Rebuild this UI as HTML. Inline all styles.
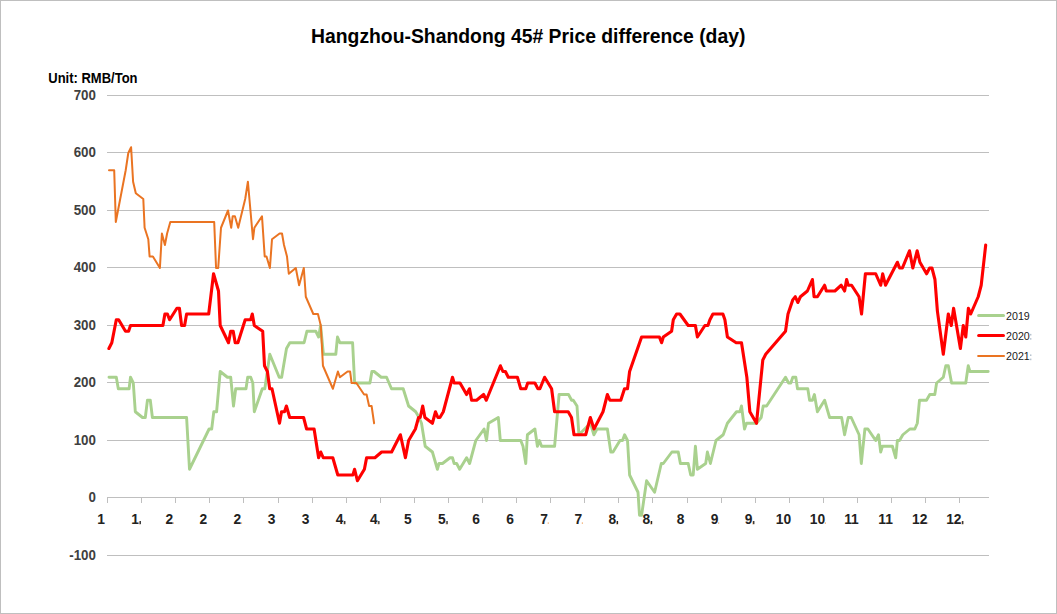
<!DOCTYPE html>
<html><head><meta charset="utf-8"><title>Hangzhou-Shandong 45# Price difference (day)</title>
<style>
html,body{margin:0;padding:0;background:#fff;}
body{width:1057px;height:614px;overflow:hidden;font-family:"Liberation Sans",sans-serif;}
svg{display:block;}
text{font-family:"Liberation Sans",sans-serif;}
.t{font-weight:bold;font-size:19.5px;fill:#000;}
.u{font-weight:bold;font-size:14px;fill:#000;}
.yl{font-weight:bold;font-size:13.9px;fill:#404040;text-anchor:end;}
.xl{font-weight:bold;font-size:15.5px;fill:#222;text-anchor:middle;}
.lg{font-size:10.67px;fill:#1a1a1a;}
</style></head><body>
<svg width="1057" height="614" viewBox="0 0 1057 614">
<rect x="0" y="0" width="1057" height="614" fill="#fff"/>
<rect x="0.5" y="0.5" width="1056" height="613" fill="none" stroke="#bfbfbf" stroke-width="1" shape-rendering="crispEdges"/>

<g shape-rendering="crispEdges" fill="#bfbfbf">
<rect x="107" y="95" width="882" height="1"/>
<rect x="107" y="152" width="882" height="1"/>
<rect x="107" y="210" width="882" height="1"/>
<rect x="107" y="267" width="882" height="1"/>
<rect x="107" y="325" width="882" height="1"/>
<rect x="107" y="382" width="882" height="1"/>
<rect x="107" y="440" width="882" height="1"/>
<rect x="107" y="555" width="882" height="1"/>
<rect x="107" y="497" width="882" height="1"/>
<rect x="107" y="497" width="1" height="6"/>
<rect x="141" y="497" width="1" height="6"/>
<rect x="175" y="497" width="1" height="6"/>
<rect x="209" y="497" width="1" height="6"/>
<rect x="243" y="497" width="1" height="6"/>
<rect x="278" y="497" width="1" height="6"/>
<rect x="312" y="497" width="1" height="6"/>
<rect x="346" y="497" width="1" height="6"/>
<rect x="380" y="497" width="1" height="6"/>
<rect x="414" y="497" width="1" height="6"/>
<rect x="448" y="497" width="1" height="6"/>
<rect x="482" y="497" width="1" height="6"/>
<rect x="516" y="497" width="1" height="6"/>
<rect x="550" y="497" width="1" height="6"/>
<rect x="584" y="497" width="1" height="6"/>
<rect x="618" y="497" width="1" height="6"/>
<rect x="652" y="497" width="1" height="6"/>
<rect x="687" y="497" width="1" height="6"/>
<rect x="721" y="497" width="1" height="6"/>
<rect x="755" y="497" width="1" height="6"/>
<rect x="789" y="497" width="1" height="6"/>
<rect x="823" y="497" width="1" height="6"/>
<rect x="857" y="497" width="1" height="6"/>
<rect x="891" y="497" width="1" height="6"/>
<rect x="925" y="497" width="1" height="6"/>
<rect x="959" y="497" width="1" height="6"/>
</g>
<text class="t" x="311.0" y="43.0" textLength="434.4" lengthAdjust="spacingAndGlyphs">Hangzhou-Shandong 45# Price difference (day)</text>
<text class="u" x="48.3" y="82.8" textLength="89.2" lengthAdjust="spacingAndGlyphs">Unit: RMB/Ton</text>
<text class="yl" transform="translate(95.9,100.0) scale(0.96,1)">700</text>
<text class="yl" transform="translate(95.9,157.0) scale(0.96,1)">600</text>
<text class="yl" transform="translate(95.9,215.0) scale(0.96,1)">500</text>
<text class="yl" transform="translate(95.9,272.0) scale(0.96,1)">400</text>
<text class="yl" transform="translate(95.9,330.0) scale(0.96,1)">300</text>
<text class="yl" transform="translate(95.9,387.0) scale(0.96,1)">200</text>
<text class="yl" transform="translate(95.9,445.0) scale(0.96,1)">100</text>
<text class="yl" transform="translate(95.9,502.0) scale(0.96,1)">0</text>
<text class="yl" transform="translate(95.9,560.0) scale(0.96,1)">-100</text>
<text class="xl" transform="translate(101.1,523.6) scale(0.89,1)">1</text>
<text class="xl" transform="translate(135.2,523.6) scale(0.89,1)">1</text>
<rect x="138.8" y="521.2" width="0.9" height="3.2" fill="#f3b27a"/><rect x="139.6" y="521.0" width="1.3" height="3.2" fill="#2a2a2a"/>
<text class="xl" transform="translate(169.3,523.6) scale(0.89,1)">2</text>
<rect x="172.8" y="522.4" width="1.1" height="1.4" fill="#f0a868"/>
<text class="xl" transform="translate(203.3,523.6) scale(0.89,1)">2</text>
<text class="xl" transform="translate(237.4,523.6) scale(0.89,1)">2</text>
<rect x="241.0" y="522.4" width="1.1" height="1.4" fill="#f0a868"/>
<text class="xl" transform="translate(271.5,523.6) scale(0.89,1)">3</text>
<text class="xl" transform="translate(305.6,523.6) scale(0.89,1)">3</text>
<text class="xl" transform="translate(339.7,523.6) scale(0.89,1)">4</text>
<rect x="343.3" y="521.2" width="0.9" height="3.2" fill="#f3b27a"/><rect x="344.1" y="521.0" width="1.3" height="3.2" fill="#2a2a2a"/>
<text class="xl" transform="translate(373.8,523.6) scale(0.89,1)">4</text>
<rect x="377.4" y="521.2" width="0.9" height="3.2" fill="#f3b27a"/><rect x="378.2" y="521.0" width="1.3" height="3.2" fill="#2a2a2a"/>
<text class="xl" transform="translate(407.8,523.6) scale(0.89,1)">5</text>
<text class="xl" transform="translate(441.9,523.6) scale(0.89,1)">5</text>
<rect x="445.6" y="521.2" width="0.9" height="3.2" fill="#f3b27a"/><rect x="446.4" y="521.0" width="1.3" height="3.2" fill="#2a2a2a"/>
<text class="xl" transform="translate(476.0,523.6) scale(0.89,1)">6</text>
<text class="xl" transform="translate(510.1,523.6) scale(0.89,1)">6</text>
<text class="xl" transform="translate(544.2,523.6) scale(0.89,1)">7</text>
<rect x="547.7" y="522.4" width="1.1" height="1.4" fill="#f0a868"/>
<text class="xl" transform="translate(578.3,523.6) scale(0.89,1)">7</text>
<rect x="581.8" y="522.4" width="1.1" height="1.4" fill="#f0a868"/>
<text class="xl" transform="translate(612.3,523.6) scale(0.89,1)">8</text>
<rect x="616.0" y="521.2" width="0.9" height="3.2" fill="#f3b27a"/><rect x="616.8" y="521.0" width="1.3" height="3.2" fill="#2a2a2a"/>
<text class="xl" transform="translate(646.4,523.6) scale(0.89,1)">8</text>
<rect x="650.1" y="521.2" width="0.9" height="3.2" fill="#f3b27a"/><rect x="650.9" y="521.0" width="1.3" height="3.2" fill="#2a2a2a"/>
<text class="xl" transform="translate(680.5,523.6) scale(0.89,1)">8</text>
<text class="xl" transform="translate(714.6,523.6) scale(0.89,1)">9</text>
<rect x="718.1" y="522.4" width="1.1" height="1.4" fill="#f0a868"/>
<text class="xl" transform="translate(748.7,523.6) scale(0.89,1)">9</text>
<rect x="752.3" y="521.2" width="0.9" height="3.2" fill="#f3b27a"/><rect x="753.1" y="521.0" width="1.3" height="3.2" fill="#2a2a2a"/>
<text class="xl" transform="translate(783.4,523.6) scale(0.89,1)">10</text>
<text class="xl" transform="translate(817.4,523.6) scale(0.89,1)">10</text>
<rect x="824.8" y="522.4" width="1.1" height="1.4" fill="#f0a868"/>
<text class="xl" transform="translate(851.5,523.6) scale(0.89,1)">11</text>
<text class="xl" transform="translate(885.6,523.6) scale(0.89,1)">11</text>
<text class="xl" transform="translate(919.7,523.6) scale(0.89,1)">12</text>
<rect x="927.1" y="522.4" width="1.1" height="1.4" fill="#f0a868"/>
<text class="xl" transform="translate(953.8,523.6) scale(0.89,1)">12</text>
<rect x="961.3" y="521.2" width="0.9" height="3.2" fill="#f3b27a"/><rect x="962.1" y="521.0" width="1.3" height="3.2" fill="#2a2a2a"/>
<polyline fill="none" stroke="#a9d18e" stroke-width="2.9" stroke-linejoin="round" stroke-linecap="round" points="109.00,377.25 116.30,377.25 118.30,388.75 129.10,388.75 130.50,377.25 133.30,383.00 135.30,411.75 142.50,417.50 145.30,417.50 147.45,400.25 150.30,400.25 152.40,417.50 186.60,417.50 189.50,469.25 209.10,429.00 211.70,429.00 213.80,411.75 216.60,411.75 220.20,371.50 227.40,377.25 230.70,377.25 233.50,406.00 235.70,388.75 246.00,388.75 247.70,377.25 250.70,377.25 252.80,383.00 254.30,411.75 262.30,388.75 264.80,388.75 269.80,354.25 279.20,377.25 281.65,377.25 286.50,348.50 289.80,342.75 304.10,342.75 306.90,331.25 315.80,331.25 318.60,337.00 320.60,325.50 323.40,354.25 335.80,354.25 337.50,337.00 339.90,342.75 352.60,342.75 354.60,383.00 369.90,383.00 371.90,371.50 374.10,371.50 381.20,377.25 386.55,377.25 391.50,388.75 403.20,388.75 408.60,406.00 415.70,411.75 419.05,417.50 421.50,423.25 425.20,446.25 432.40,452.00 437.40,469.25 439.00,463.50 442.50,463.50 450.00,457.75 452.50,457.75 454.15,463.50 456.65,463.50 459.65,469.25 466.60,457.75 469.60,463.50 475.80,440.50 484.10,429.00 486.50,440.50 488.50,423.25 498.30,417.50 500.30,440.50 520.75,440.50 523.00,446.25 525.75,463.50 527.40,434.75 534.90,429.00 537.40,446.25 539.40,440.50 541.60,446.25 554.60,446.25 559.10,394.50 568.50,394.50 571.60,400.25 573.30,400.25 577.00,406.00 578.90,434.75 590.40,423.25 593.90,434.75 597.00,429.00 607.40,429.00 610.80,452.00 613.00,452.00 620.00,440.50 622.50,440.50 624.60,434.75 627.50,440.50 629.60,475.00 638.00,492.25 639.50,515.25 641.60,515.25 646.60,480.75 654.60,492.25 661.30,463.50 663.30,463.50 671.90,452.00 678.25,452.00 680.40,463.50 688.20,463.50 690.70,475.00 693.20,475.00 695.40,446.25 697.40,469.25 705.70,463.50 707.40,452.00 710.40,463.50 716.00,440.50 723.20,434.75 727.40,423.25 736.50,411.75 739.90,411.75 741.50,406.00 744.50,429.00 746.50,423.25 756.50,423.25 761.20,417.50 763.20,406.00 766.60,406.00 785.50,377.25 788.60,383.00 790.80,383.00 792.80,377.25 795.80,377.25 797.50,388.75 807.80,388.75 809.60,400.25 812.40,400.25 814.40,394.50 817.40,411.75 824.60,400.25 829.60,417.50 841.60,417.50 844.60,434.75 848.20,417.50 851.20,417.50 859.10,434.75 861.30,463.50 864.90,429.00 867.90,429.00 875.70,440.50 878.50,434.75 880.70,452.00 882.40,446.25 892.40,446.25 895.70,457.75 897.40,440.50 899.50,440.50 902.85,434.75 909.85,429.00 914.80,429.00 917.30,423.25 919.50,400.25 926.50,400.25 929.80,394.50 934.80,394.50 936.60,383.00 943.30,377.25 945.80,365.75 948.30,365.75 951.60,383.00 965.75,383.00 968.25,365.75 969.90,371.50 988.20,371.50"/>
<polyline fill="none" stroke="#ff0000" stroke-width="3.1" stroke-linejoin="round" stroke-linecap="round" points="108.90,348.50 111.80,342.75 116.30,319.75 118.65,319.75 125.50,331.25 128.60,331.25 130.50,325.50 162.90,325.50 164.90,314.00 167.40,314.00 169.60,319.75 176.90,308.25 179.40,308.25 181.60,325.50 184.60,325.50 186.60,314.00 208.70,314.00 213.55,273.75 218.50,291.00 220.20,325.50 228.50,342.75 230.70,331.25 233.20,331.25 235.20,342.75 237.90,342.75 245.20,319.75 250.70,319.75 252.30,314.00 254.30,325.50 262.70,331.25 264.50,365.75 267.40,371.50 269.70,388.75 272.00,388.75 279.50,423.25 281.50,411.75 284.50,411.75 286.40,406.00 289.70,417.50 303.60,417.50 306.60,429.00 314.10,429.00 318.60,457.75 320.75,452.00 323.25,457.75 332.80,457.75 337.80,475.00 352.90,475.00 354.60,469.25 357.40,480.75 364.40,469.25 366.60,457.75 374.90,457.75 381.60,452.00 391.60,452.00 400.40,434.75 405.40,457.75 408.60,440.50 415.40,429.00 418.55,417.50 420.20,417.50 422.70,406.00 424.90,417.50 432.40,423.25 435.50,411.75 437.90,417.50 439.90,417.50 443.30,411.75 452.50,377.25 454.15,383.00 460.00,383.00 466.60,394.50 469.50,388.75 471.60,400.25 476.60,400.25 483.60,394.50 486.30,400.25 500.40,365.75 502.90,371.50 505.40,371.50 508.30,377.25 517.40,377.25 520.75,388.75 525.75,388.75 527.70,383.00 534.90,383.00 537.90,388.75 539.90,388.75 544.60,377.25 551.60,388.75 554.60,411.75 568.20,411.75 571.50,417.50 574.00,434.75 585.70,434.75 590.35,417.50 594.00,429.00 603.00,411.75 607.40,394.50 609.90,400.25 620.80,400.25 624.50,388.75 627.50,388.75 629.60,371.50 641.60,337.00 659.40,337.00 661.60,342.75 663.30,337.00 671.60,331.25 673.30,319.75 676.60,314.00 679.90,314.00 688.20,325.50 695.40,325.50 697.40,337.00 704.90,325.50 707.90,325.50 709.90,319.75 712.90,314.00 722.90,314.00 724.90,319.75 727.40,337.00 736.20,342.75 741.50,342.75 746.85,377.25 749.85,411.75 756.50,423.25 762.80,360.00 765.70,354.25 785.50,331.25 788.00,314.00 792.90,299.62 795.30,296.75 797.80,302.50 800.40,296.75 807.40,291.00 812.40,279.50 814.10,296.75 817.40,296.75 824.60,285.25 826.30,291.00 834.90,291.00 841.20,285.25 844.60,291.00 846.60,279.50 848.20,285.25 851.60,285.25 859.05,296.75 861.55,314.00 865.40,273.75 875.70,273.75 880.70,285.25 882.70,273.75 885.50,285.25 897.40,262.25 899.60,268.00 902.40,268.00 909.50,250.75 912.80,268.00 917.20,250.75 919.90,262.25 926.60,273.75 929.60,268.00 931.95,268.00 934.95,279.50 937.40,311.12 943.30,354.25 948.30,314.00 951.30,325.50 953.60,308.25 960.40,348.50 963.25,325.50 965.75,337.00 968.40,308.25 970.70,314.00 978.20,296.75 981.20,285.25 985.70,245.00"/>
<polyline fill="none" stroke="#ea7422" stroke-width="2.0" stroke-linejoin="round" stroke-linecap="round" points="109.00,170.25 114.20,170.25 115.80,222.00 125.70,170.25 128.30,153.00 131.10,147.25 133.10,181.75 135.80,193.25 143.30,199.00 144.60,227.75 148.30,239.25 149.60,256.50 152.90,256.50 159.90,268.00 161.90,233.50 164.90,245.00 167.10,233.50 170.30,222.00 214.20,222.00 216.05,268.00 218.20,268.00 221.00,227.75 228.00,210.50 231.20,227.75 232.70,216.25 234.90,216.25 238.20,227.75 245.20,199.00 247.90,181.75 253.00,239.25 254.40,227.75 262.00,216.25 264.70,256.50 266.50,256.50 269.90,268.00 272.00,239.25 279.60,233.50 282.00,233.50 284.00,245.00 287.00,256.50 288.80,273.75 295.80,268.00 299.10,285.25 303.80,268.00 305.80,296.75 313.30,314.00 317.95,314.00 320.80,325.50 322.95,365.75 332.90,388.75 337.90,371.50 339.90,377.25 347.60,371.50 350.10,371.50 351.60,383.00 356.40,383.00 364.10,394.50 366.60,394.50 369.10,406.00 371.60,406.00 374.10,423.25"/>
<line x1="978.60" y1="315.5" x2="1003.50" y2="315.5" stroke="#a9d18e" stroke-width="3.0" stroke-linecap="round"/>
<text class="lg" x="1006.1" y="319.7">2019</text>
<line x1="978.65" y1="335.5" x2="1003.45" y2="335.5" stroke="#ff0000" stroke-width="3.1" stroke-linecap="round"/>
<text class="lg" x="1006.1" y="339.7">2020</text>
<rect x="1030.3" y="333.9" width="1" height="1.6" fill="#9ab"/><rect x="1030.3" y="338.1" width="1" height="1.6" fill="#9ab"/>
<line x1="978.10" y1="356.0" x2="1004.00" y2="356.0" stroke="#ea7422" stroke-width="2.0" stroke-linecap="round"/>
<text class="lg" x="1006.1" y="360.2">2021</text>
<rect x="1030.3" y="354.4" width="1" height="1.6" fill="#9ab"/><rect x="1030.3" y="358.6" width="1" height="1.6" fill="#9ab"/>
</svg></body></html>
